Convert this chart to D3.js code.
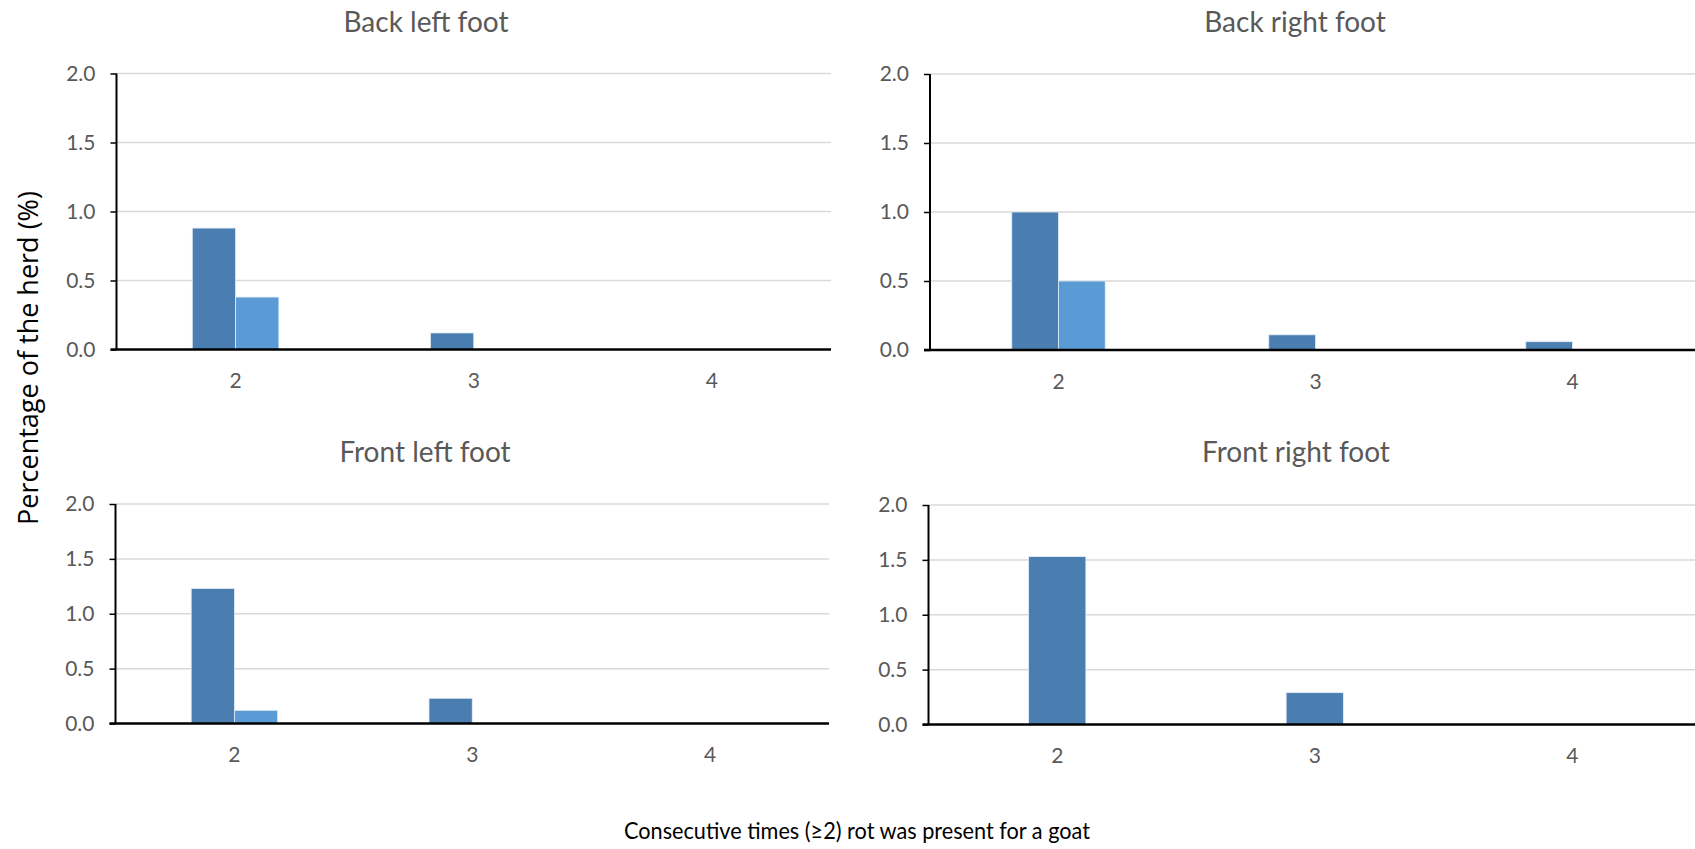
<!DOCTYPE html>
<html>
<head>
<meta charset="utf-8">
<script src="https://cdn.jsdelivr.net/npm/d3@7"></script>
<style>
  html, body { margin: 0; padding: 0; background: #ffffff; }
  svg { display: block; }
</style>
</head>
<body>
<script>
// Categories on every x axis: number of consecutive times rot was present
const categories = ["2", "3", "4"];
const yTicks = [0, 0.5, 1.0, 1.5, 2.0];

// Percentage of the herd per foot (two series where present)
const backLeftA = [0.88, 0.12, 0];
const backLeftB = [0.38, 0, 0];
const backRightA = [1.0, 0.11, 0.06];
const backRightB = [0.5, 0, 0];
const frontLeftA = [1.23, 0.23, 0];
const frontLeftB = [0.12, 0, 0];
const frontRightA = [1.53, 0.29, 0];

const panelTitles = ["Back left foot", "Back right foot", "Front left foot", "Front right foot"];
const yAxisTitle = "Percentage of the herd (%)";
const xAxisTitle = "Consecutive times (\u22652) rot was present for a goat";

const seriesColors = ["#4a7eb0", "#5b9bd5"];

const W = 1695, H = 849;
const svg = d3.select("body").append("svg").attr("width", W).attr("height", H);
svg.append("rect").attr("width", W).attr("height", H).attr("fill", "#ffffff");

// Plot areas and title anchors for the 2x2 grid
const panels = [
  { title: panelTitles[0], series: [backLeftA, backLeftB],   box: { l: 116.5, r: 831,  t: 73.5,  b: 349.5 }, tx: 426,  ty: 32 },
  { title: panelTitles[1], series: [backRightA, backRightB], box: { l: 930,   r: 1701, t: 74,    b: 350 },   tx: 1295, ty: 32 },
  { title: panelTitles[2], series: [frontLeftA, frontLeftB], box: { l: 115.5, r: 829,  t: 504,   b: 723.5 }, tx: 425,  ty: 462 },
  { title: panelTitles[3], series: [frontRightA],            box: { l: 928.5, r: 1701, t: 505,   b: 724.5 }, tx: 1296, ty: 462 }
];

const gapWidth = 3.5; // space between groups, in bar widths

panels.forEach(p => {
  const { l, r, t, b } = p.box;
  const g = svg.append("g");

  const x = d3.scaleBand().domain(categories).range([l, r]).paddingInner(0).paddingOuter(0);
  const y = d3.scaleLinear().domain([0, 2]).range([b, t]);

  const n = p.series.length;
  const barW = x.bandwidth() / (n + gapWidth);
  const xs = d3.scaleBand().domain(d3.range(n)).range([-n * barW / 2, n * barW / 2]);

  // horizontal gridlines
  g.append("g").selectAll("line").data(yTicks.filter(v => v > 0)).join("line")
    .attr("x1", l).attr("x2", r)
    .attr("y1", d => y(d)).attr("y2", d => y(d))
    .attr("stroke", "#d9d9d9").attr("stroke-width", 1.5);

  // bars
  p.series.forEach((vals, si) => {
    g.append("g").selectAll("rect").data(vals.map((v, i) => ({ c: categories[i], v })))
      .join("rect")
      .filter(d => d.v > 0)
      .attr("x", d => x(d.c) + x.bandwidth() / 2 + xs(si))
      .attr("width", xs.bandwidth())
      .attr("y", d => y(d.v))
      .attr("height", d => y(0) - y(d.v))
      .attr("fill", seriesColors[si])
      .attr("stroke", "#e4edf6").attr("stroke-width", 0.8);
  });

  // y axis
  const yAxis = d3.axisLeft(y).tickValues(yTicks).tickFormat(d3.format(".1f")).tickSize(6).tickPadding(15);
  const ya = g.append("g").attr("transform", `translate(${l},0)`).call(yAxis);
  ya.select(".domain").attr("stroke", "#000").attr("stroke-width", 2).attr("d", `M0,${t}V${b}`);
  ya.selectAll(".tick line").attr("stroke", "#000").attr("stroke-width", 1.5);
  ya.selectAll(".tick text").attr("fill", "#595959").style("font-family", "Lato, sans-serif").style("font-size", "21px");

  // x axis
  const xAxis = d3.axisBottom(x).tickSize(0).tickPadding(24);
  const xa = g.append("g").attr("transform", `translate(0,${b})`).call(xAxis);
  xa.select(".domain").attr("stroke", "#000").attr("stroke-width", 2.5).attr("d", `M${l - 6},0H${r}`);
  xa.selectAll(".tick text").attr("fill", "#595959").style("font-family", "Lato, sans-serif").style("font-size", "21px");

  // panel title
  g.append("text").attr("x", p.tx).attr("y", p.ty).attr("text-anchor", "middle")
    .attr("fill", "#595959").style("font-family", "Lato, sans-serif").style("font-size", "28px")
    .text(p.title);
});

// shared axis titles
svg.append("text")
  .attr("transform", `translate(38,${358}) rotate(-90)`)
  .attr("text-anchor", "middle")
  .attr("fill", "#000")
  .style("font-family", "'Open Sans', sans-serif").style("font-size", "27px")
  .text(yAxisTitle);

svg.append("text")
  .attr("x", 857).attr("y", 839).attr("text-anchor", "middle")
  .attr("fill", "#000")
  .attr("textLength", 466).attr("lengthAdjust", "spacingAndGlyphs")
  .style("font-family", "Lato, sans-serif").style("font-size", "24px")
  .text(xAxisTitle);
</script>
</body>
</html>
